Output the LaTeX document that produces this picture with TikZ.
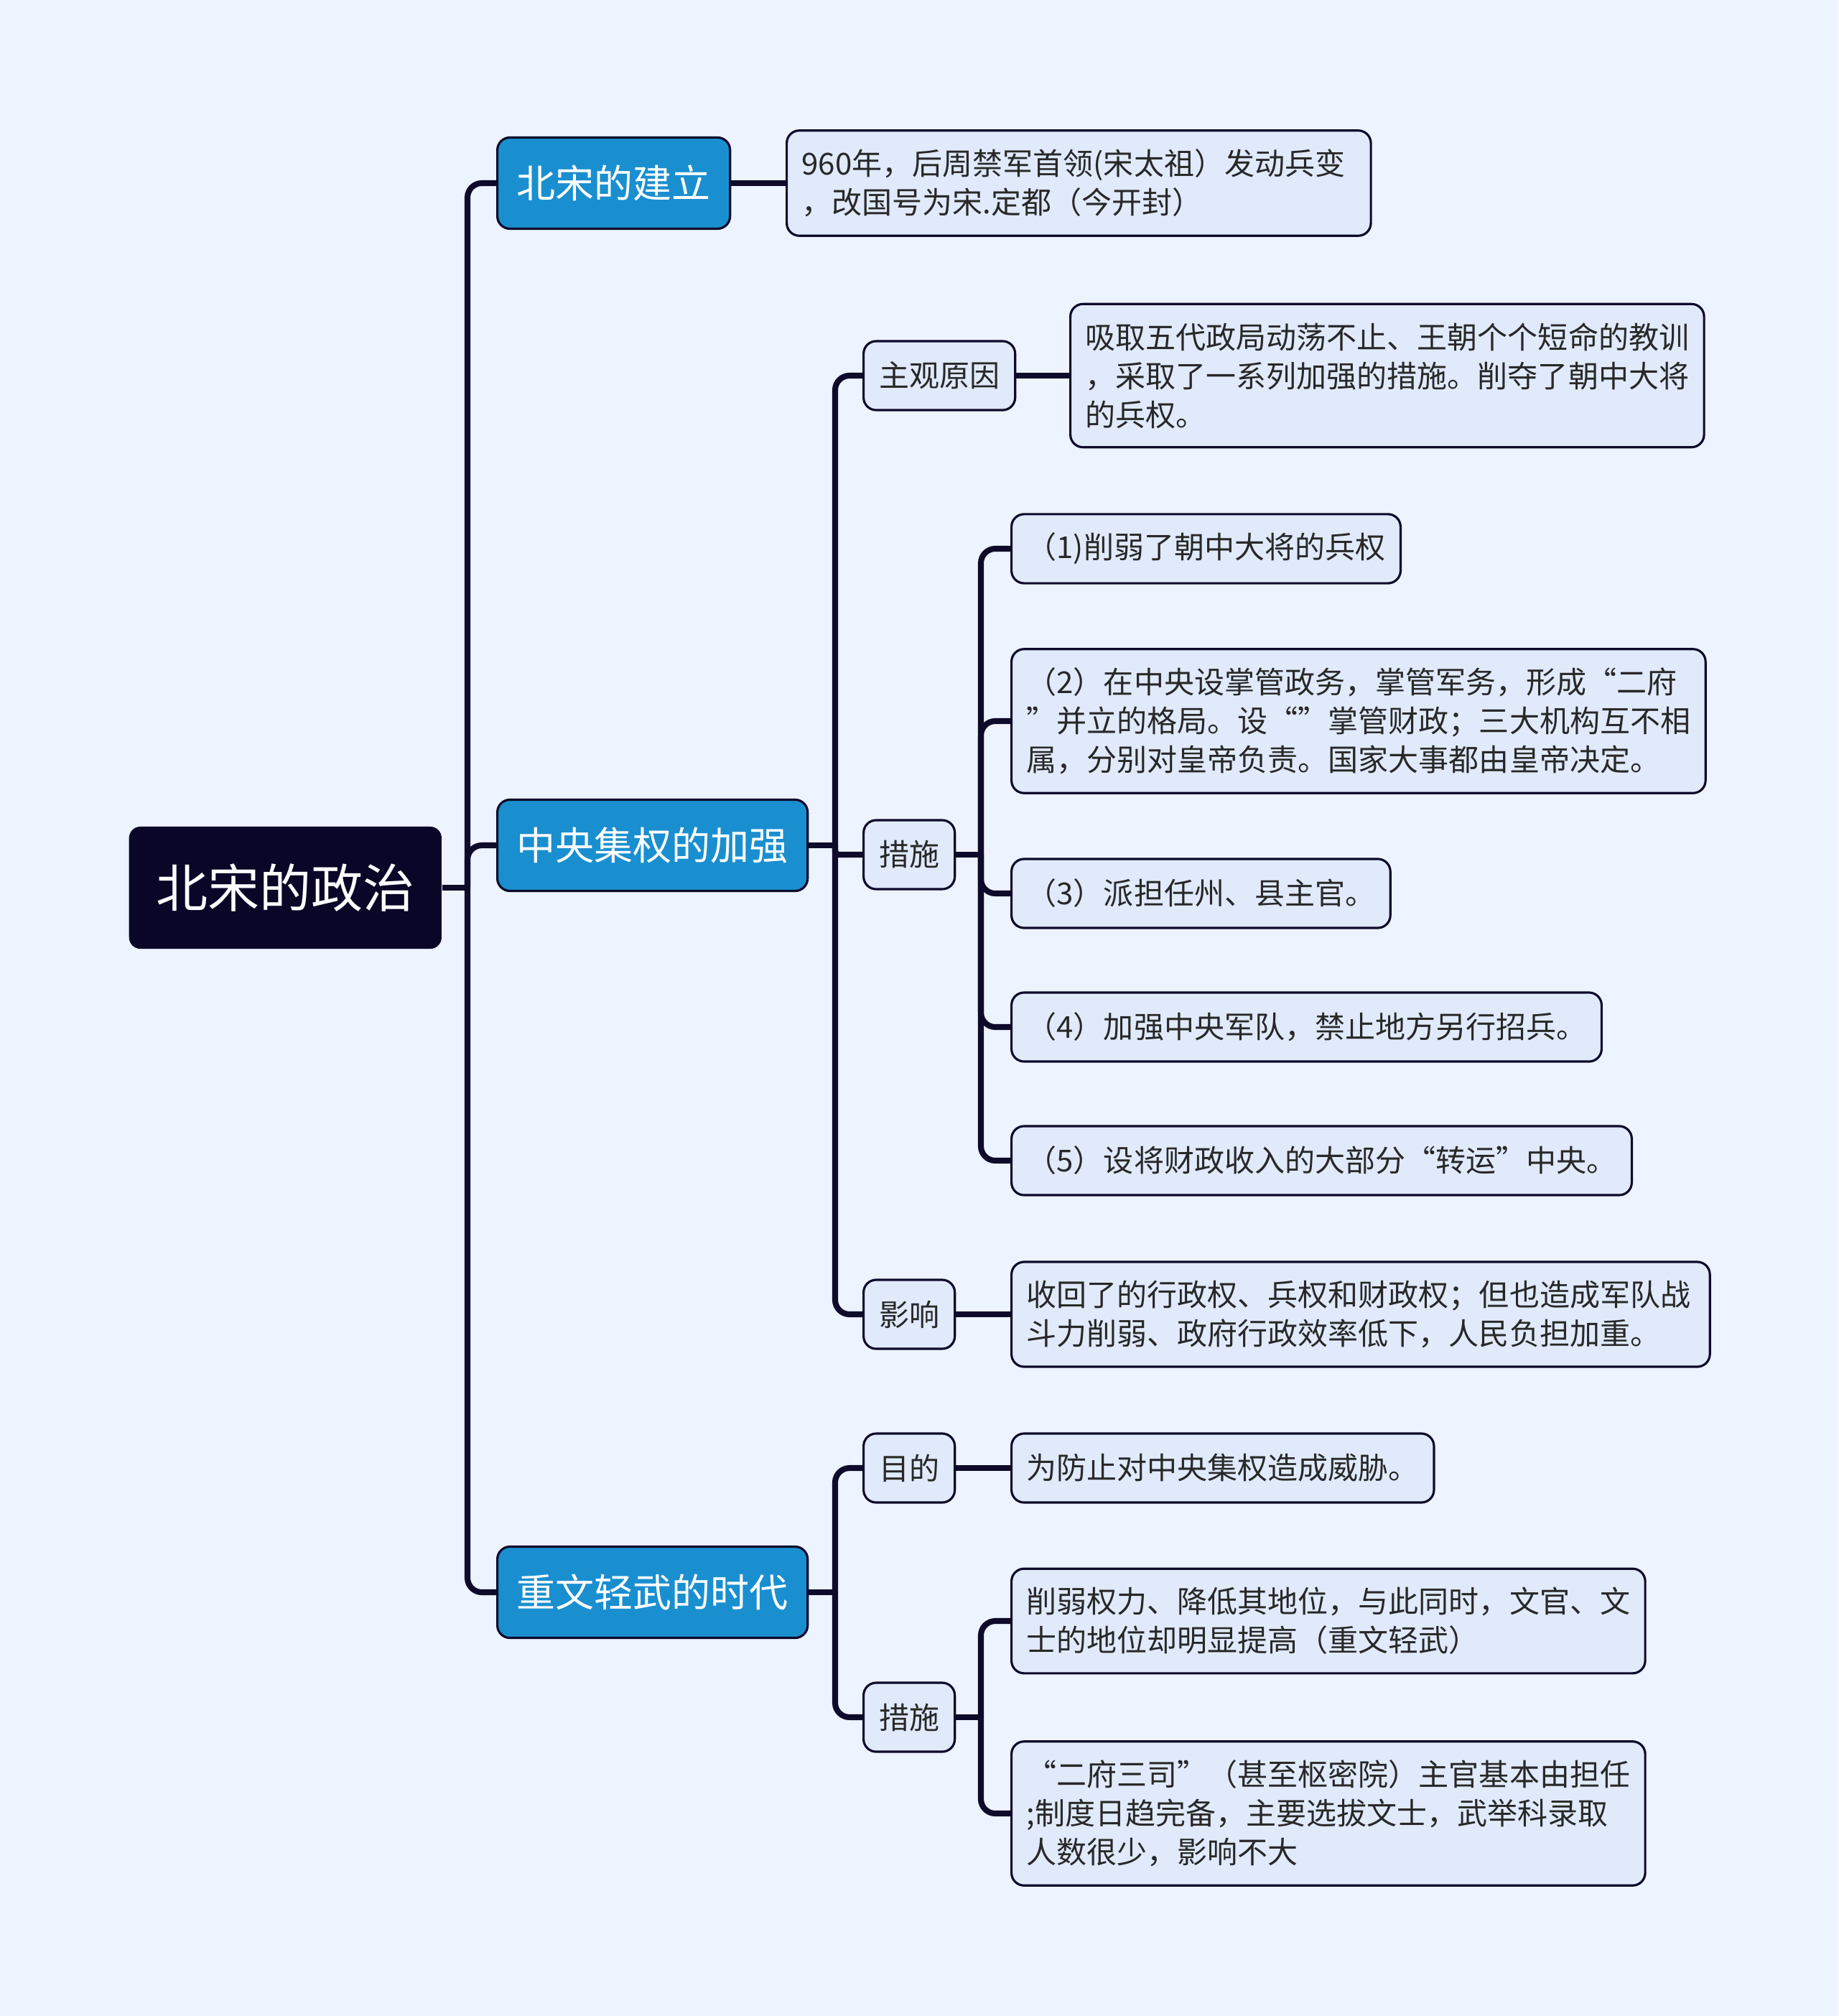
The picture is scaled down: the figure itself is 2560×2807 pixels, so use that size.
\documentclass[tikz,border=0pt]{standalone}
\usepackage{fontspec}
\setmainfont{Noto Sans CJK SC}
\definecolor{mapbg}{RGB}{237,243,255}
\definecolor{mapleaf}{RGB}{224,234,251}
\definecolor{mapblue}{RGB}{26,143,208}
\definecolor{maproot}{RGB}{10,6,40}
\definecolor{mapline}{RGB}{14,10,42}
\definecolor{maptext}{RGB}{40,40,40}
\newcommand{\leaffont}{\fontsize{11.95pt}{15.36pt}\selectfont}
\newcommand{\branchfont}{\fontsize{15.36pt}{18pt}\selectfont}
\newcommand{\rootfont}{\fontsize{20.5pt}{24pt}\selectfont}

\begin{document}
\begin{tikzpicture}[x=0.01cm,y=-0.01cm,
  link/.style={draw=mapline,line width=2.3pt,rounded corners=5.7pt},
  mapbox/.style={draw=mapline,line width=0.9pt,rounded corners=5pt,anchor=west},
  rootbox/.style={fill=maproot,text=white,rounded corners=4.5pt,anchor=west,font=\rootfont,minimum width=4.35cm,minimum height=1.7cm},
  branchbox/.style={mapbox,fill=mapblue,text=white,font=\branchfont,minimum height=1.27cm,inner xsep=0.27cm},
  topicbox/.style={mapbox,fill=mapleaf,text=maptext,font=\leaffont,minimum height=0.96cm,inner xsep=0.215cm},
  leafbox/.style={topicbox,align=left,inner xsep=0.21cm,inner ysep=0.26cm}]
\fill[mapbg] (0,0) rectangle (2560,2807);
\useasboundingbox (0,0) rectangle (2560,2807);
% root
\node[rootbox] (root) at (179,1236) {北宋的政治};
% 北宋的建立
\node[branchbox] (jianli) at (691,255) {北宋的建立};
\node[leafbox,text width=7.71cm] (jianliD) at (1094,255) {960年，后周禁军首领(宋太祖）发动兵变\\，改国号为宋.定都（今开封）};
% 中央集权的加强
\node[branchbox] (jiaqiang) at (691,1177) {中央集权的加强};
\node[topicbox] (yuanyin) at (1201,523) {主观原因};
\node[leafbox] (yuanyinD) at (1489,523) {吸取五代政局动荡不止、王朝个个短命的教训\\，采取了一系列加强的措施。削夺了朝中大将\\的兵权。};
\node[topicbox] (cuoshiA) at (1201,1190) {措施};
\node[leafbox] (csA1) at (1407,764) {（1)削弱了朝中大将的兵权};
\node[leafbox] (csA2) at (1407,1004) {（2）在中央设掌管政务，掌管军务，形成“二府\\”并立的格局。设“”掌管财政；三大机构互不相\\属，分别对皇帝负责。国家大事都由皇帝决定。};
\node[leafbox] (csA3) at (1407,1244) {（3）派担任州、县主官。};
\node[leafbox] (csA4) at (1407,1430) {（4）加强中央军队，禁止地方另行招兵。};
\node[leafbox] (csA5) at (1407,1616) {（5）设将财政收入的大部分“转运”中央。};
\node[topicbox] (yingxiang) at (1201,1830) {影响};
\node[leafbox,text width=9.3cm] (yingxiangD) at (1407,1830) {收回了的行政权、兵权和财政权；但也造成军队战\\斗力削弱、政府行政效率低下，人民负担加重。};
% 重文轻武的时代
\node[branchbox] (zhongwen) at (691,2217) {重文轻武的时代};
\node[topicbox] (mudi) at (1201,2044) {目的};
\node[leafbox] (mudiD) at (1407,2044) {为防止对中央集权造成威胁。};
\node[topicbox] (cuoshiB) at (1201,2391) {措施};
\node[leafbox] (csB1) at (1407,2257) {削弱权力、降低其地位，与此同时，文官、文\\士的地位却明显提高（重文轻武）};
\node[leafbox] (csB2) at (1407,2525) {“二府三司”（甚至枢密院）主官基本由担任\\;制度日趋完备，主要选拔文士，武举科录取\\人数很少，影响不大};
% junctions
\coordinate (rootj) at (651,1236);
\coordinate (jiaqiangj) at (1163,1177);
\coordinate (cuoshiAj) at (1366,1190);
\coordinate (zhongwenj) at (1163,2217);
\coordinate (cuoshiBj) at (1366,2391);
% connectors
\draw[link] (root.east) -- (rootj);
\foreach \n in {jianli,jiaqiang,zhongwen}
  \draw[link] (rootj) |- (\n.west);
\draw[link] (jianli.east) -- (jianliD.west);
\draw[link] (jiaqiang.east) -- (jiaqiangj);
\foreach \n in {yuanyin,yingxiang}
  \draw[link] (jiaqiangj) |- (\n.west);
\draw[link,rounded corners=1.5pt] (jiaqiangj) |- (cuoshiA.west);
\draw[link] (yuanyin.east) -- (yuanyinD.west);
\draw[link] (cuoshiA.east) -- (cuoshiAj);
\foreach \n in {csA1,csA2,csA3,csA4,csA5}
  \draw[link] (cuoshiAj) |- (\n.west);
\draw[link] (yingxiang.east) -- (yingxiangD.west);
\draw[link] (zhongwen.east) -- (zhongwenj);
\foreach \n in {mudi,cuoshiB}
  \draw[link] (zhongwenj) |- (\n.west);
\draw[link] (mudi.east) -- (mudiD.west);
\draw[link] (cuoshiB.east) -- (cuoshiBj);
\foreach \n in {csB1,csB2}
  \draw[link] (cuoshiBj) |- (\n.west);
\end{tikzpicture}
\end{document}
